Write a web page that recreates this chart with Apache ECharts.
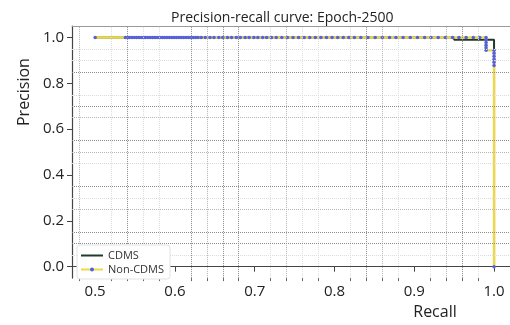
<!DOCTYPE html>
<html>
<head>
<meta charset="utf-8">
<script src="https://cdn.jsdelivr.net/npm/echarts@6/dist/echarts.min.js"></script>
<style>
    html, body { margin: 0; padding: 0; background: #ffffff; }
    #chart { width: 510px; height: 325px; }
</style>
</head>
<body>
<div id="chart"></div>
<script>
    // Non-CDMS curve
    var nonCdmsRecall = [
        0.500,
        0.538, 0.541, 0.543, 0.546, 0.549, 0.552, 0.555, 0.558, 0.561, 0.563,
        0.566, 0.569, 0.572, 0.575, 0.578, 0.581, 0.584, 0.587, 0.590, 0.593,
        0.596, 0.599, 0.602, 0.605, 0.608, 0.611, 0.614, 0.617, 0.620, 0.623,
        0.626, 0.629,
        0.633, 0.638, 0.644, 0.649, 0.655, 0.660, 0.666, 0.671, 0.677, 0.682,
        0.688, 0.693, 0.699, 0.704, 0.710, 0.715, 0.721, 0.727,
        0.734, 0.741, 0.748, 0.755, 0.762, 0.769, 0.776, 0.783, 0.790, 0.797,
        0.804, 0.811, 0.818, 0.825,
        0.833, 0.842, 0.851, 0.860, 0.869, 0.877, 0.886, 0.895, 0.904, 0.913,
        0.921, 0.930, 0.939, 0.948, 0.956, 0.965, 0.974, 0.982, 0.990,
        0.990, 0.990, 0.990, 0.990, 0.990,
        1.000, 1.000, 1.000, 1.000, 1.000, 1.000,
        1.000
    ];
    var nonCdmsPrecision = [
        1.000,
        1, 1, 1, 1, 1, 1, 1, 1, 1, 1,
        1, 1, 1, 1, 1, 1, 1, 1, 1, 1,
        1, 1, 1, 1, 1, 1, 1, 1, 1, 1,
        1, 1,
        1, 1, 1, 1, 1, 1, 1, 1, 1, 1,
        1, 1, 1, 1, 1, 1, 1, 1,
        1, 1, 1, 1, 1, 1, 1, 1, 1, 1,
        1, 1, 1, 1,
        1, 1, 1, 1, 1, 1, 1, 1, 1, 1,
        1, 1, 1, 1, 1, 1, 1, 1, 1,
        0.990, 0.978, 0.966, 0.955, 0.944,
        0.944, 0.931, 0.918, 0.905, 0.892, 0.878,
        0.000
    ];
    // CDMS curve
    var cdmsRecall = [0.500, 0.950, 0.950, 1.000, 1.000];
    var cdmsPrecision = [1.000, 1.000, 0.990, 0.990, 0.000];

    var xTicks = [0.5, 0.6, 0.7, 0.8, 0.9, 1.0];
    var yTicks = [0.0, 0.2, 0.4, 0.6, 0.8, 1.0];
    var xMinorTicks = [0.48, 0.52, 0.54, 0.56, 0.58, 0.62, 0.64, 0.66, 0.68, 0.72, 0.74, 0.76, 0.78,
        0.82, 0.84, 0.86, 0.88, 0.92, 0.94, 0.96, 0.98];
    // minor grid lines (dark / mid / light as they show in the picture)
    var xGridDark = [0.54, 0.62, 0.66, 0.68, 0.84, 0.96];
    var xGridMid = [0.48, 0.64, 0.74, 0.86, 0.94];
    var xGridLight = [0.52, 0.56, 0.58, 0.72, 0.76, 0.78, 0.82, 0.88, 0.92, 0.98];
    var yGridDark = [0.85, 0.70, 0.55, 0.35, 0.15, 0.10];
    var yGridMid = [0.50, 0.65, 0.25];
    var yGridLight = [0.95, 0.90, 0.75, 0.45, 0.30, 0.05];

    function pairs(xs, ys) {
        return xs.map(function (x, i) { return [x, ys[i]]; });
    }
    function gridItems(vals, key, color) {
        return vals.map(function (v) {
            var o = { lineStyle: { color: color } };
            o[key] = v;
            return o;
        });
    }

    var font = 'Open Sans';
    var gridLines = []
        .concat(gridItems(xGridLight, 'xAxis', '#dcdcdc'))
        .concat(gridItems(yGridLight, 'yAxis', '#dcdcdc'))
        .concat(gridItems(xGridMid, 'xAxis', '#b4b4b4'))
        .concat(gridItems(yGridMid, 'yAxis', '#b4b4b4'))
        .concat(gridItems(xGridDark, 'xAxis', '#8c8c8c'))
        .concat(gridItems(yGridDark, 'yAxis', '#8c8c8c'));

    var chart = echarts.init(document.getElementById('chart'));
    var options = {
        animation: false,
        backgroundColor: '#ffffff',
        textStyle: { fontFamily: font },
        title: {
            text: 'Precision-recall curve: Epoch-2500',
            left: 166,
            top: 6,
            textStyle: { fontFamily: font, fontSize: 14, fontWeight: 'normal', color: '#222' }
        },
        legend: {
            data: [
                // thin bar inside a 22x5 box: a plain line sample
                { name: 'CDMS', icon: 'path://M0,0M22,5M0,1.5H22V3.5H0Z' },
                { name: 'Non-CDMS' }
            ],
            orient: 'vertical',
            left: 77,
            top: 245,
            z: 10,
            itemWidth: 22,
            itemHeight: 5,
            itemGap: 3,
            padding: [5, 6, 4, 3],
            backgroundColor: '#ffffff',
            borderColor: '#e2e2e2',
            borderWidth: 1,
            borderRadius: 3,
            textStyle: { fontFamily: font, fontSize: 11, color: '#333' }
        },
        grid: { left: 72, right: 0, top: 26, bottom: 43 },
        xAxis: [
            {
                type: 'value',
                min: 0.471,
                max: 1.02,
                position: 'bottom',
                name: 'Recall',
                nameLocation: 'middle',
                nameGap: 20,
                nameTextStyle: { fontFamily: font, fontSize: 16, color: '#222', padding: [0, 0, 0, 288] },
                axisLine: { lineStyle: { color: '#444', width: 1.2 } },
                axisTick: { customValues: xTicks, length: 5, lineStyle: { color: '#444' } },
                axisLabel: {
                    customValues: xTicks,
                    margin: 6,
                    fontSize: 15,
                    fontFamily: font,
                    color: '#222',
                    formatter: function (v) { return v.toFixed(1); }
                },
                splitLine: { show: false }
            },
            {
                type: 'value',
                min: 0.471,
                max: 1.02,
                position: 'bottom',
                axisLine: { show: false },
                axisTick: { customValues: xMinorTicks, length: 3, lineStyle: { color: '#666' } },
                axisLabel: { show: false },
                splitLine: { show: false }
            },
            {
                type: 'value',
                min: 0.471,
                max: 1.02,
                position: 'top',
                axisLine: { lineStyle: { color: '#9a9a9a', width: 1 } },
                axisTick: { show: false },
                axisLabel: { show: false },
                splitLine: { show: false }
            }
        ],
        yAxis: {
            type: 'value',
            min: -0.05,
            max: 1.05,
            name: 'Precision',
            nameLocation: 'middle',
            nameGap: 36,
            nameTextStyle: { fontFamily: font, fontSize: 16, color: '#222', padding: [0, 0, 0, 120] },
            axisLine: { show: true, lineStyle: { color: '#444', width: 1.2 } },
            axisTick: { show: true, customValues: yTicks, length: 5, lineStyle: { color: '#444' } },
            axisLabel: {
                customValues: yTicks,
                margin: 8,
                fontSize: 15,
                fontFamily: font,
                color: '#222',
                formatter: function (v) { return v.toFixed(1); }
            },
            splitLine: { show: false }
        },
        series: [
            {
                name: 'grid',
                type: 'line',
                data: [],
                z: 1,
                markLine: {
                    silent: true,
                    symbol: ['none', 'none'],
                    label: { show: false },
                    lineStyle: { type: [1, 1], width: 1 },
                    data: gridLines
                }
            },
            {
                name: 'CDMS',
                type: 'line',
                data: pairs(cdmsRecall, cdmsPrecision),
                symbol: 'none',
                z: 3,
                lineStyle: { color: '#1f3a2a', width: 2 },
                itemStyle: { color: '#1f3a2a' }
            },
            {
                name: 'Non-CDMS',
                type: 'line',
                data: pairs(nonCdmsRecall, nonCdmsPrecision),
                symbol: 'circle',
                symbolSize: 3.5,
                showAllSymbol: true,
                z: 4,
                lineStyle: { color: '#ecd84a', width: 2.5 },
                itemStyle: { color: '#5560e0', borderWidth: 0 }
            }
        ]
    };
    chart.setOption(options);
</script>
</body>
</html>
